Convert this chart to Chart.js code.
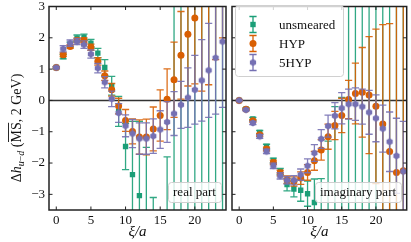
<!DOCTYPE html>
<html>
<head>
<meta charset="utf-8">
<script src="https://cdn.jsdelivr.net/npm/chart.js@4.4.0/dist/chart.umd.min.js"></script>
<style>
  html, body { margin: 0; padding: 0; background: #fff; }
  #wrap { position: relative; width: 411px; height: 242px; overflow: hidden; }
  #realChart { position: absolute; left: 0; top: 0; }
  #imagChart { position: absolute; left: 228px; top: 0; }
</style>
</head>
<body>
<div id="wrap">
  <canvas id="realChart" width="230" height="242"></canvas>
  <canvas id="imagChart" width="183" height="242"></canvas>
</div>
<script>
// ξ/a positions
const xValues = [0, 1, 2, 3, 4, 5, 6, 7, 8, 9, 10, 11, 12, 13, 14, 15, 16, 17, 18, 19, 20, 21, 22, 23, 24];
const xTicks = [0, 5, 10, 15, 20];
const yTicks = [-3, -2, -1, 0, 1, 2, 3];
const seriesNames = ['unsmeared', 'HYP', '5HYP'];

// real part
const realUnsmeared = [1.05, 1.40, 1.78, 1.99, 2.02, 1.83, 1.51, 1.05, 0.47, -0.35, -1.47, -2.37, -3.04, -3.9, -4.6, -9.0, -5.0, -6.5, -7.0, -7.0, -7.5, -8.0, -8.0, -8.5, -9.0];
const realUnsmearedErr = [0.03, 0.07, 0.08, 0.10, 0.10, 0.12, 0.15, 0.25, 0.30, 0.48, 0.74, 1.70, 2.37, 2.40, 1.50, 3.0, 3.2, 10.5, 11.0, 11.0, 11.5, 12.0, 12.0, 12.5, 13.0];
const realHYP = [1.05, 1.46, 1.72, 1.92, 1.92, 1.70, 1.25, 0.79, 0.34, -0.18, -0.64, -0.99, -1.17, -1.17, -0.91, -0.48, 0.04, 0.66, 1.44, 2.11, 2.63, 3.6, 4.0, 4.5, 5.0];
const realHYPErr = [0.03, 0.06, 0.06, 0.07, 0.08, 0.10, 0.12, 0.15, 0.20, 0.25, 0.35, 0.40, 0.55, 0.57, 0.70, 0.82, 0.97, 1.20, 1.40, 1.65, 2.10, 3.3, 3.5, 3.2, 3.0];
const real5HYP = [1.05, 1.65, 1.83, 1.88, 1.78, 1.48, 1.03, 0.58, 0.05, -0.40, -0.81, -1.06, -1.22, -1.22, -1.14, -0.93, -0.69, -0.42, -0.14, 0.09, 0.34, 0.64, 0.96, 1.36, 1.88];
const real5HYPErr = [0.03, 0.10, 0.10, 0.10, 0.12, 0.13, 0.15, 0.18, 0.25, 0.30, 0.35, 0.45, 0.50, 0.50, 0.55, 0.60, 0.65, 0.70, 0.75, 0.95, 1.10, 1.30, 1.50, 1.80, 2.10];

// imaginary part
const imagUnsmeared = [0, -0.27, -0.59, -1.02, -1.47, -1.92, -2.27, -2.69, -2.83, -2.87, -2.98, -3.26, -3.8, -4.4, -5.0, -5.5, -6.0, -6.0, -6.5, -6.5, -7.0, -7.0, -7.5, -7.5, -8.0];
const imagUnsmearedErr = [0.01, 0.03, 0.05, 0.06, 0.07, 0.08, 0.10, 0.20, 0.25, 0.35, 0.40, 0.75, 1.30, 3.10, 4.80, 5.60, 10.0, 10.0, 10.5, 10.5, 11.0, 11.0, 11.5, 11.5, 12.0];
const imagHYP = [0, -0.28, -0.65, -1.10, -1.55, -1.98, -2.32, -2.53, -2.59, -2.48, -2.30, -1.93, -1.58, -1.16, -0.80, -0.48, 0.03, 0.22, 0.26, 0.17, -0.19, -0.75, -1.63, -2.30, -2.25];
const imagHYPErr = [0.01, 0.03, 0.04, 0.05, 0.06, 0.07, 0.09, 0.12, 0.15, 0.20, 0.25, 0.30, 0.33, 0.40, 0.45, 0.55, 0.61, 0.97, 1.43, 1.87, 2.47, 3.17, 4.08, 5.5, 6.0];
const imag5HYP = [0, -0.30, -0.72, -1.15, -1.63, -2.09, -2.41, -2.55, -2.55, -2.37, -2.09, -1.68, -1.23, -0.82, -0.49, -0.25, -0.12, -0.12, -0.20, -0.38, -0.57, -0.90, -1.32, -1.77, -2.27];
const imag5HYPErr = [0.01, 0.03, 0.05, 0.06, 0.07, 0.09, 0.10, 0.12, 0.15, 0.18, 0.22, 0.27, 0.30, 0.35, 0.42, 0.50, 0.48, 0.52, 0.56, 0.70, 0.75, 0.75, 0.95, 1.20, 1.60];

const colors = ['#1b9e77', '#d95f02', '#7570b3'];
const FONT = '"Liberation Serif", "Times New Roman", serif';

// hexagon marker for 5HYP
function hexMarker(color, r) {
    const c = document.createElement('canvas');
    const s = Math.ceil(r * 2 + 2);
    c.width = s;
    c.height = s;
    const g = c.getContext('2d');
    g.fillStyle = color;
    g.beginPath();
    for (let k = 0; k < 6; k++) {
        const a = Math.PI / 2 + k * Math.PI / 3;
        g.lineTo(s / 2 + r * Math.cos(a), s / 2 + r * Math.sin(a));
    }
    g.closePath();
    g.fill();
    return c;
}
const hexImg = hexMarker(colors[2], 3.6);
const pointStyles = ['rect', 'circle', hexImg];
const pointRadii = [3.8, 3.5, 3.6];

function toPoints(values) {
    return values.map((v, i) => ({ x: xValues[i], y: v }));
}

function makeDatasets(values) {
    return values.map((vals, k) => ({
        label: seriesNames[k],
        data: toPoints(vals),
        pointStyle: pointStyles[k],
        pointRadius: pointRadii[k],
        backgroundColor: colors[k],
        borderColor: colors[k],
        borderWidth: 0,
        showLine: false,
        clip: 0,
        order: 3 - k
    }));
}

function drawErrorBar(ctx, x, yLo, yHi, color, cap) {
    ctx.strokeStyle = color;
    ctx.lineWidth = 1.3;
    ctx.beginPath();
    ctx.moveTo(x, yLo);
    ctx.lineTo(x, yHi);
    ctx.moveTo(x - cap, yLo);
    ctx.lineTo(x + cap, yLo);
    ctx.moveTo(x - cap, yHi);
    ctx.lineTo(x + cap, yHi);
    ctx.stroke();
}

function textBox(ctx, text, x1, y1, x2, y2) {
    ctx.save();
    ctx.fillStyle = 'rgba(255,255,255,0.8)';
    ctx.strokeStyle = '#d0d0d0';
    ctx.lineWidth = 1;
    ctx.beginPath();
    ctx.roundRect(x1 + 0.5, y1 + 0.5, x2 - x1, y2 - y1, 3);
    ctx.fill();
    ctx.stroke();
    ctx.fillStyle = '#111';
    ctx.font = '13px ' + FONT;
    ctx.textAlign = 'center';
    ctx.textBaseline = 'middle';
    ctx.fillText(text, (x1 + x2) / 2, (y1 + y2) / 2 + 1);
    ctx.restore();
}

function drawYTitle(ctx, cx, cy) {
    const parts = [
        { t: 'Δ', f: '14px ', dy: 0 },
        { t: 'h', f: 'italic 14px ', dy: 0 },
        { t: 'u', f: 'italic 10px ', dy: 3 },
        { t: '−', f: '10px ', dy: 3 },
        { t: 'd', f: 'italic 10px ', dy: 3 },
        { t: ' (', f: '14px ', dy: 0 },
        { t: 'MS', f: '14px ', dy: 0, over: true },
        { t: ', 2 GeV)', f: '14px ', dy: 0 }
    ];
    ctx.save();
    ctx.translate(cx, cy);
    ctx.rotate(-Math.PI / 2);
    ctx.fillStyle = '#111';
    ctx.strokeStyle = '#111';
    ctx.textBaseline = 'alphabetic';
    let total = 0;
    parts.forEach(p => { ctx.font = p.f + FONT; p.w = ctx.measureText(p.t).width; total += p.w; });
    let x = -total / 2;
    parts.forEach(p => {
        ctx.font = p.f + FONT;
        ctx.fillText(p.t, x, 5 + p.dy);
        if (p.over) {
            ctx.lineWidth = 0.9;
            ctx.beginPath();
            ctx.moveTo(x + 0.5, -7.5);
            ctx.lineTo(x + p.w - 0.5, -7.5);
            ctx.stroke();
        }
        x += p.w;
    });
    ctx.restore();
}

const panelPlugin = {
    id: 'panel',
    beforeDatasetsDraw(chart) {
        const { ctx, chartArea: a, scales } = chart;
        const y0 = scales.y.getPixelForValue(0);
        ctx.save();
        ctx.strokeStyle = '#333';
        ctx.lineWidth = 1.5;
        ctx.beginPath();
        ctx.moveTo(a.left, y0);
        ctx.lineTo(a.right, y0);
        ctx.stroke();
        ctx.restore();
    },
    beforeDatasetDraw(chart, args, opts) {
        const { ctx, chartArea: a, scales } = chart;
        const k = args.index;
        const vals = opts.values[k];
        const errs = opts.errors[k];
        ctx.save();
        ctx.beginPath();
        ctx.rect(a.left, a.top, a.right - a.left, a.bottom - a.top);
        ctx.clip();
        ctx.globalAlpha = 0.9;
        vals.forEach((v, i) => {
            const x = scales.x.getPixelForValue(xValues[i]);
            const lo = scales.y.getPixelForValue(v - errs[i]);
            const hi = scales.y.getPixelForValue(v + errs[i]);
            drawErrorBar(ctx, x, lo, hi, colors[k], 3.6);
        });
        ctx.restore();
    },
    afterDraw(chart, args, opts) {
        const { ctx, chartArea: a, scales } = chart;
        ctx.save();
        // frame
        ctx.strokeStyle = '#222';
        ctx.lineWidth = 1.5;
        ctx.strokeRect(a.left, a.top, a.right - a.left, a.bottom - a.top);
        // inward ticks on all sides
        ctx.lineWidth = 1;
        ctx.beginPath();
        xTicks.forEach(t => {
            const x = scales.x.getPixelForValue(t);
            ctx.moveTo(x, a.bottom); ctx.lineTo(x, a.bottom - 3.5);
            ctx.moveTo(x, a.top); ctx.lineTo(x, a.top + 3.5);
        });
        yTicks.forEach(t => {
            const y = scales.y.getPixelForValue(t);
            ctx.moveTo(a.left, y); ctx.lineTo(a.left + 3.5, y);
            ctx.moveTo(a.right, y); ctx.lineTo(a.right - 3.5, y);
        });
        ctx.stroke();
        ctx.restore();

        // x title
        ctx.save();
        ctx.fillStyle = '#111';
        ctx.font = 'italic 15px ' + FONT;
        ctx.textAlign = 'center';
        ctx.textBaseline = 'alphabetic';
        ctx.fillText('ξ/a', (a.left + a.right) / 2, 236);
        ctx.restore();

        // panel label
        const b = opts.labelBox;
        textBox(ctx, opts.label, b[0], b[1], b[2], b[3]);

        if (opts.yTitle) drawYTitle(ctx, 16, 128);

        if (opts.legend) {
            const lx = opts.legend;
            ctx.save();
            ctx.fillStyle = 'rgba(255,255,255,0.8)';
            ctx.strokeStyle = '#d0d0d0';
            ctx.lineWidth = 1;
            ctx.beginPath();
            ctx.roundRect(lx[0] + 0.5, lx[1] + 0.5, lx[2] - lx[0], lx[3] - lx[1], 3);
            ctx.fill();
            ctx.stroke();
            seriesNames.forEach((name, k) => {
                const mx = lx[0] + 18;
                const my = lx[1] + 19.5 + k * 19;
                drawErrorBar(ctx, mx, my - 8, my + 8, colors[k], 3.6);
                ctx.fillStyle = colors[k];
                if (k === 0) {
                    ctx.fillRect(mx - 2.7, my - 2.7, 5.4, 5.4);
                } else if (k === 1) {
                    ctx.beginPath();
                    ctx.arc(mx, my, 3.5, 0, Math.PI * 2);
                    ctx.fill();
                } else {
                    ctx.drawImage(hexImg, mx - hexImg.width / 2, my - hexImg.height / 2);
                }
                ctx.fillStyle = '#111';
                ctx.font = '13px ' + FONT;
                ctx.textAlign = 'left';
                ctx.textBaseline = 'middle';
                ctx.fillText(name, lx[0] + 44, my + 1);
            });
            ctx.restore();
        }
    }
};

function fixPadding(s) {
    s.paddingTop = 0;
    s.paddingBottom = 0;
    s.paddingLeft = 0;
    s.paddingRight = 0;
}

function makeChart(id, values, errors, opts) {
    const ctx = document.getElementById(id).getContext('2d');
    return new Chart(ctx, {
        type: 'scatter',
        data: { datasets: makeDatasets(values) },
        options: {
            responsive: false,
            animation: false,
            events: [],
            layout: { padding: opts.padding },
            plugins: {
                legend: { display: false },
                tooltip: { enabled: false },
                panel: {
                    values: values,
                    errors: errors,
                    label: opts.label,
                    labelBox: opts.labelBox,
                    legend: opts.legend,
                    yTitle: opts.yTitle
                }
            },
            scales: {
                x: {
                    type: 'linear',
                    min: -1.05,
                    max: 24.5,
                    grid: { display: false, drawTicks: false },
                    border: { display: false },
                    afterBuildTicks: s => { s.ticks = xTicks.map(v => ({ value: v })); },
                    afterFit: s => { s.height = 32; fixPadding(s); },
                    ticks: {
                        color: '#111',
                        padding: 3,
                        maxRotation: 0,
                        font: { family: FONT, size: 13 }
                    }
                },
                y: {
                    type: 'linear',
                    min: -3.5,
                    max: 3,
                    display: opts.yTitle,
                    grid: { display: false, drawTicks: false },
                    border: { display: false },
                    afterBuildTicks: s => { s.ticks = yTicks.map(v => ({ value: v })); },
                    afterFit: s => { s.width = opts.yTitle ? 49 : 0; fixPadding(s); },
                    ticks: {
                        color: '#111',
                        padding: 4,
                        font: { family: FONT, size: 13 },
                        callback: v => (v < 0 ? '−' + Math.abs(v) : String(v))
                    }
                }
            }
        },
        plugins: [panelPlugin]
    });
}

document.addEventListener('DOMContentLoaded', () => {
    makeChart('realChart',
        [realUnsmeared, realHYP, real5HYP],
        [realUnsmearedErr, realHYPErr, real5HYPErr],
        {
            padding: { top: 6.5, right: 1.5, left: 0, bottom: 0 },
            label: 'real part',
            labelBox: [168, 182, 221, 202],
            legend: null,
            yTitle: true
        });
    makeChart('imagChart',
        [imagUnsmeared, imagHYP, imag5HYP],
        [imagUnsmearedErr, imagHYPErr, imag5HYPErr],
        {
            padding: { top: 6.5, right: 4.3, left: 0.5, bottom: 0 },
            label: 'imaginary part',
            labelBox: [87, 182, 173, 202],
            legend: [7, 5, 115, 76],
            yTitle: false
        });
});
</script>
</body>
</html>
